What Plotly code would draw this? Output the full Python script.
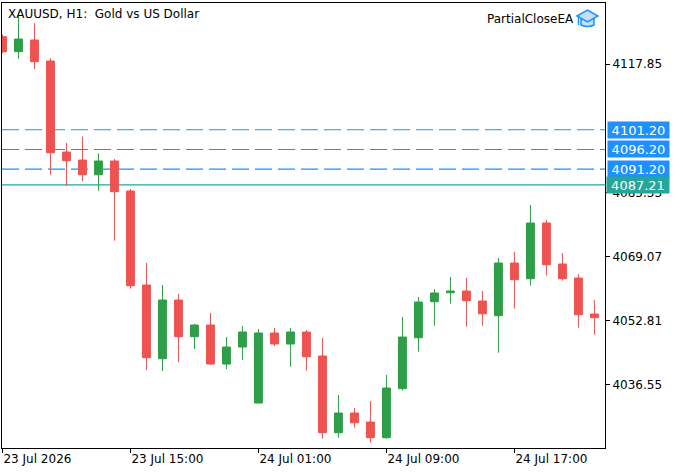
import plotly.graph_objects as go

# hourly bars, XAUUSD H1 (market closed 23:00-01:00)
bar_times = [
    "23 Jul 07:00", "23 Jul 08:00", "23 Jul 09:00", "23 Jul 10:00", "23 Jul 11:00",
    "23 Jul 12:00", "23 Jul 13:00", "23 Jul 14:00", "23 Jul 15:00", "23 Jul 16:00",
    "23 Jul 17:00", "23 Jul 18:00", "23 Jul 19:00", "23 Jul 20:00", "23 Jul 21:00",
    "23 Jul 22:00", "24 Jul 01:00", "24 Jul 02:00", "24 Jul 03:00", "24 Jul 04:00",
    "24 Jul 05:00", "24 Jul 06:00", "24 Jul 07:00", "24 Jul 08:00", "24 Jul 09:00",
    "24 Jul 10:00", "24 Jul 11:00", "24 Jul 12:00", "24 Jul 13:00", "24 Jul 14:00",
    "24 Jul 15:00", "24 Jul 16:00", "24 Jul 17:00", "24 Jul 18:00", "24 Jul 19:00",
    "24 Jul 20:00", "24 Jul 21:00", "24 Jul 22:00",
]
opens = [
    4124.76, 4120.97, 4123.93, 4118.61, 4095.56, 4093.53, 4089.81, 4093.28, 4085.68, 4061.87,
    4043.20, 4058.07, 4048.78, 4051.74, 4041.86, 4046.17, 4031.98, 4049.71, 4046.93, 4049.97,
    4043.89, 4024.46, 4029.45, 4027.17, 4023.19, 4035.61, 4048.52, 4057.64, 4059.92, 4060.35,
    4057.82, 4054.10, 4067.44, 4063.47, 4077.58, 4067.19, 4063.65, 4054.53,
]
highs = [
    4125.30, 4130.26, 4128.16, 4119.29, 4097.84, 4099.44, 4095.23, 4093.79, 4086.19, 4067.44,
    4061.87, 4059.59, 4051.99, 4054.78, 4048.70, 4051.49, 4050.73, 4050.98, 4050.98, 4050.47,
    4048.45, 4034.01, 4030.72, 4032.49, 4039.08, 4053.77, 4058.83, 4060.86, 4063.90, 4063.65,
    4060.35, 4068.71, 4070.23, 4082.14, 4078.34, 4069.98, 4064.66, 4058.07,
]
lows = [
    4120.60, 4119.19, 4116.58, 4089.81, 4087.02, 4088.21, 4085.76, 4073.09, 4060.94, 4040.34,
    4040.09, 4042.37, 4045.66, 4041.61, 4040.60, 4042.88, 4031.90, 4046.42, 4041.18, 4040.17,
    4022.94, 4023.19, 4025.73, 4021.93, 4022.94, 4035.10, 4044.98, 4051.56, 4057.14, 4051.31,
    4051.56, 4044.72, 4055.87, 4061.70, 4064.23, 4062.96, 4051.06, 4049.28,
]
closes = [
    4120.97, 4124.18, 4118.43, 4095.38, 4093.36, 4089.81, 4093.28, 4085.50, 4061.70, 4043.46,
    4058.07, 4048.78, 4051.74, 4041.86, 4046.17, 4049.97, 4049.71, 4046.93, 4049.97, 4043.71,
    4024.46, 4029.45, 4026.99, 4023.19, 4035.78, 4048.70, 4057.57, 4059.85, 4060.35, 4057.90,
    4054.60, 4067.44, 4063.21, 4077.58, 4067.01, 4063.47, 4054.35, 4053.59,
]

tick_bars = ["23 Jul 07:00", "23 Jul 15:00", "24 Jul 01:00", "24 Jul 09:00", "24 Jul 17:00"]
tick_labels = ["23 Jul 2026", "23 Jul 15:00", "24 Jul 01:00", "24 Jul 09:00", "24 Jul 17:00"]
price_ticks = [4117.85, 4085.33, 4069.07, 4052.81, 4036.55]

level_prices = [4101.20, 4096.20, 4091.20]
bid_price = 4087.21

UP = "#2E9E48"
DOWN = "#EF5350"
BLUE = "#1E90FF"
TEAL = "#26A69A"
FONT = "DejaVu Sans"

W, H = 683, 475
ML, MR, MT, MB = 2, 78, 3, 27


def px(x):
    return (x - ML) / (W - ML - MR)


def py(y):
    return (H - MB - y) / (H - MT - MB)


fig = go.Figure(go.Candlestick(
    x=bar_times, open=opens, high=highs, low=lows, close=closes,
    increasing=dict(line=dict(color=UP, width=1), fillcolor=UP),
    decreasing=dict(line=dict(color=DOWN, width=1), fillcolor=DOWN),
    whiskerwidth=0, hoverinfo="skip",
))

shapes = []
for p in level_prices:
    shapes.append(dict(type="line", xref="paper", x0=0, x1=1, yref="y", y0=p, y1=p,
                       line=dict(color=BLUE, width=1.2, dash="17px,6px"), layer="below"))
shapes.append(dict(type="line", xref="paper", x0=0, x1=1, yref="y", y0=bid_price, y1=bid_price,
                   line=dict(color=TEAL, width=1.2), layer="below"))

# logo cap
cap = "M {} {} L {} {} L {} {} L {} {} Z".format(px(577), py(16), px(587.5), py(10),
                                                   px(598), py(16), px(587.5), py(22))
cup = "M {} {} L {} {} Q {} {} {} {} L {} {} Z".format(px(581), py(19), px(581), py(25),
                                                        px(587.5), py(28), px(594), py(25),
                                                        px(594), py(19))
for d in (cup, cap):
    shapes.append(dict(type="path", xref="paper", yref="paper", path=d,
                       fillcolor="#BFE0F7", line=dict(color=BLUE, width=1.5)))
shapes.append(dict(type="line", xref="paper", yref="paper", x0=px(578.5), x1=px(578.5),
                   y0=py(16.5), y1=py(25), line=dict(color=BLUE, width=1.5)))

annotations = [
    dict(text="XAUUSD, H1:  Gold vs US Dollar", xref="paper", yref="paper",
         x=px(6), y=py(5), xanchor="left", yanchor="top", showarrow=False,
         font=dict(family=FONT, size=12, color="black")),
    dict(text="PartialCloseEA", xref="paper", yref="paper",
         x=px(576), y=py(19), xanchor="right", yanchor="middle", showarrow=False,
         font=dict(family=FONT, size=12, color="black")),
]
for p in level_prices:
    annotations.append(dict(text=f"{p:.2f}", xref="paper", yref="y", x=px(607), y=p,
                            xanchor="left", yanchor="middle", showarrow=False,
                            bgcolor=BLUE, width=59, height=14, borderpad=1, align="center",
                            font=dict(family=FONT, size=13, color="white")))
annotations.append(dict(text=f"{bid_price:.2f}", xref="paper", yref="y", x=px(606), y=bid_price,
                        xanchor="left", yanchor="middle", showarrow=False,
                        bgcolor=TEAL, width=60, height=14, borderpad=1, align="center",
                        font=dict(family=FONT, size=13, color="white")))

fig.update_layout(
    width=W, height=H,
    margin=dict(l=ML, r=MR, t=MT, b=MB),
    paper_bgcolor="white", plot_bgcolor="white",
    showlegend=False,
    shapes=shapes,
    annotations=annotations,
    font=dict(family=FONT, size=12, color="black"),
)
fig.update_xaxes(
    type="category", range=[-0.03, 37.66], rangeslider_visible=False,
    tickvals=tick_bars, ticktext=tick_labels, ticklabelposition="outside right",
    ticks="outside", ticklen=4, tickcolor="black", showgrid=False, zeroline=False,
    showline=True, linecolor="black", linewidth=1, mirror=True,
)
fig.update_yaxes(
    side="right", range=[4020.59, 4133.3], tickvals=price_ticks,
    ticktext=[f"{v:.2f}" for v in price_ticks],
    ticks="outside", ticklen=4, tickcolor="black", showgrid=False, zeroline=False,
    showline=True, linecolor="black", linewidth=1, mirror=True,
)

fig.write_html("out.html", config={"displayModeBar": False},
               post_script="document.body.style.margin='0px';")
